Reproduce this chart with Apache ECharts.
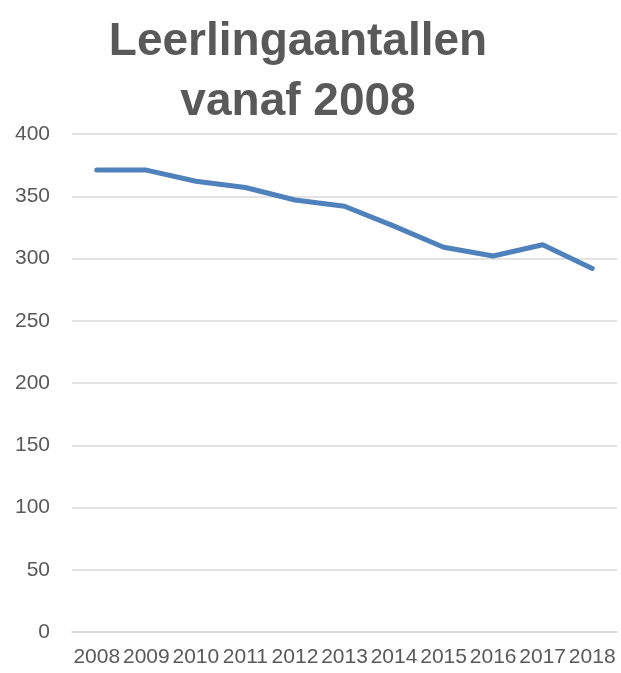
<!DOCTYPE html>
<html lang="nl">
<head>
  <meta charset="UTF-8">
  <title>Leerlingaantallen vanaf 2008</title>
  <script type="text/javascript" src="https://cdn.jsdelivr.net/npm/echarts@6/dist/echarts.min.js"></script>
  <style type="text/css">
    * { margin: 0; padding: 0; }
    html, body { width: 100%; height: 100%; background-color: #fff; }
    #chart { width: 621px; height: 673px; }
  </style>
</head>
<body>
<div id="chart"></div>
<script type="text/javascript">
  // jaren en leerlingaantallen
  var years = ['2008', '2009', '2010', '2011', '2012', '2013', '2014', '2015', '2016', '2017', '2018'];
  var pupils = [371, 371, 362, 357, 347, 342, 326, 309, 302, 311, 292];
  var yTicks = { min: 0, max: 400, interval: 50 };

  var myChart = echarts.init(document.getElementById('chart'));
  var option = {
    backgroundColor: '#fff',
    title: {
      text: 'Leerlingaantallen\nvanaf 2008',
      left: 298,
      top: 12,
      padding: 0,
      textAlign: 'center',
      textStyle: {
        fontFamily: 'Liberation Sans',
        fontWeight: 'bold',
        fontSize: 46,
        lineHeight: 60,
        color: '#595959'
      }
    },
    grid: {
      left: 72,
      right: 4,
      top: 134,
      bottom: 41,
      containLabel: false
    },
    xAxis: {
      type: 'category',
      data: years,
      boundaryGap: true,
      axisLine: { lineStyle: { color: '#d9d9d9', width: 1.5 } },
      axisTick: { show: false },
      axisLabel: {
        interval: 0,
        margin: 15,
        fontFamily: 'Liberation Sans',
        fontSize: 21,
        color: '#595959'
      }
    },
    yAxis: {
      type: 'value',
      min: yTicks.min,
      max: yTicks.max,
      interval: yTicks.interval,
      axisLine: { show: false },
      axisTick: { show: false },
      splitLine: { lineStyle: { color: '#d9d9d9', width: 1.5 } },
      axisLabel: {
        margin: 22,
        fontFamily: 'Liberation Sans',
        fontSize: 21,
        color: '#595959'
      }
    },
    series: [{
      type: 'line',
      data: pupils,
      symbol: 'none',
      smooth: false,
      lineStyle: { color: '#4f81bd', width: 5, cap: 'round', join: 'round' }
    }]
  };
  myChart.setOption(option);
</script>
</body>
</html>
